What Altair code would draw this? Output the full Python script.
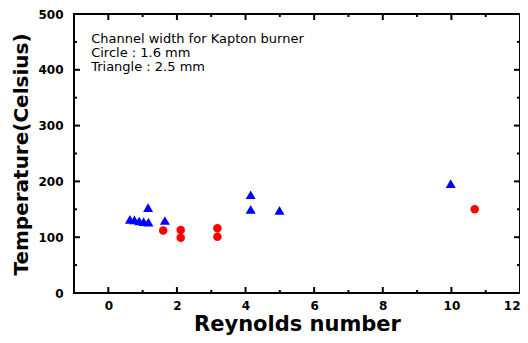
import altair as alt
import pandas as pd

# ---- data ----
tri_re = [0.63, 0.76, 0.90, 1.03, 1.17, 1.16, 1.65, 4.15, 4.15, 4.99, 9.98]
tri_temp = [132, 131, 129, 128, 127, 153, 130, 176, 150, 148, 196]
circ_re = [1.60, 2.11, 2.11, 3.18, 3.18, 10.68]
circ_temp = [112, 113, 99, 116, 101, 150]

x_major = [0, 2, 4, 6, 8, 10, 12]
x_minor = [-1, 1, 3, 5, 7, 9, 11]
y_major = [0, 100, 200, 300, 400, 500]
y_minor = [50, 150, 250, 350, 450]

note_lines = ["Channel width for Kapton burner", "Circle : 1.6 mm", "Triangle : 2.5 mm"]

W, H = 446, 279
xs = alt.Scale(domain=[-1, 12], nice=False, zero=False)
ys = alt.Scale(domain=[0, 500], nice=False, zero=False)

tri_df = pd.DataFrame({"re": tri_re, "temp": tri_temp})
circ_df = pd.DataFrame({"re": circ_re, "temp": circ_temp})

x_axis = alt.Axis(values=x_major, title="Reynolds number", titleFontSize=21,
                  titleX=W / 2, titleY=37, titleAlign="center", titleBaseline="alphabetic",
                  labelPadding=7, labelFlush=True, labelFlushOffset=0)
y_axis = alt.Axis(values=y_major, title="Temperature(Celsius)", titleFontSize=20,
                  titleX=-53, titleY=140, titleAngle=270, titleAlign="center",
                  titleBaseline="middle", labelPadding=11, labelFlush=False)

triangles = alt.Chart(tri_df).mark_point(
    shape="triangle-up", filled=True, color="#0000FF", size=100, opacity=1
).encode(
    x=alt.X("re:Q", scale=xs, axis=x_axis),
    y=alt.Y("temp:Q", scale=ys, axis=y_axis),
)

circles = alt.Chart(circ_df).mark_circle(color="#FF0000", size=72, opacity=1).encode(
    x=alt.X("re:Q", scale=xs, axis=x_axis),
    y=alt.Y("temp:Q", scale=ys, axis=y_axis),
)


def x_ticks(vals, length):
    base = alt.Chart(pd.DataFrame({"v": vals})).mark_rule(color="black", strokeWidth=2)
    xe = alt.X("v:Q", scale=xs, axis=x_axis)
    return [
        base.encode(x=xe, y=alt.value(H), y2=alt.value(H - length)),
        base.encode(x=xe, y=alt.value(0), y2=alt.value(length)),
    ]


def y_ticks(vals, length):
    base = alt.Chart(pd.DataFrame({"v": vals})).mark_rule(color="black", strokeWidth=2)
    ye = alt.Y("v:Q", scale=ys, axis=y_axis)
    return [
        base.encode(y=ye, x=alt.value(0), x2=alt.value(length)),
        base.encode(y=ye, x=alt.value(W), x2=alt.value(W - length)),
    ]


ticks = x_ticks(x_major, 6) + x_ticks(x_minor, 3) + y_ticks(y_major, 6) + y_ticks(y_minor, 3)

note = alt.Chart(pd.DataFrame({"a": [0]})).mark_text(
    align="left", baseline="alphabetic", font="DejaVu Sans", fontSize=13,
    lineHeight=14, color="black"
).encode(
    x=alt.X(datum=-0.5, scale=xs, axis=x_axis),
    y=alt.Y(datum=448, scale=ys, axis=y_axis),
    text=alt.value(note_lines),
)

chart = alt.layer(triangles, circles, *ticks, note).properties(
    width=W, height=H,
    background="white",
    autosize=alt.AutoSizeParams(type="none"),
    padding={"left": 66, "top": 6, "right": 0, "bottom": 42},
).configure_view(
    stroke="black", strokeWidth=2
).configure_axis(
    labelFont="DejaVu Sans", labelFontWeight="bold", labelFontSize=12, labelColor="black",
    titleFont="DejaVu Sans", titleFontWeight="bold", titleColor="black",
    domain=False, ticks=False, tickSize=0, grid=False,
)

chart.save("out.html", embed_options={"renderer": "svg", "actions": False})
